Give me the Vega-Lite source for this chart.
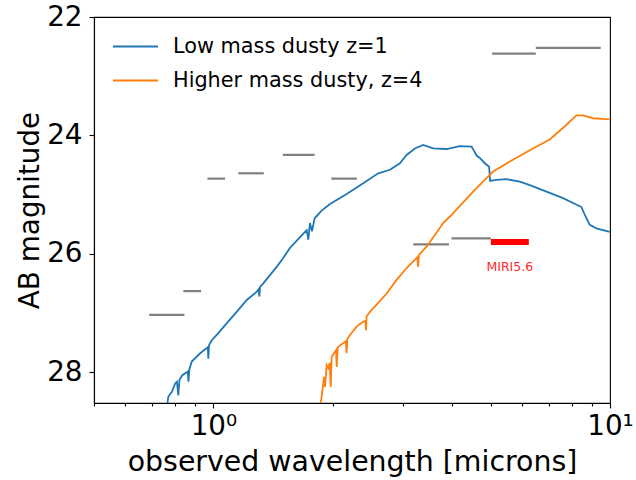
{
  "$schema": "https://vega.github.io/schema/vega-lite/v6.json",
  "width": 516,
  "height": 386,
  "autosize": {"type": "none"},
  "padding": {"left": 94, "top": 17, "right": 26, "bottom": 77},
  "background": "white",
  "config": {
    "font": "DejaVu Sans",
    "view": {"stroke": "black", "strokeWidth": 1.1},
    "axis": {
      "domainColor": "black",
      "domainWidth": 1.1,
      "tickColor": "black",
      "tickWidth": 1.1,
      "labelColor": "black",
      "titleColor": "black",
      "labelFont": "DejaVu Sans",
      "titleFont": "DejaVu Sans",
      "labelFontSize": 27.8,
      "titleFontSize": 28.4,
      "titleFontWeight": "normal",
      "grid": false
    },
    "legend": {
      "labelFont": "DejaVu Sans",
      "labelFontSize": 20.8,
      "labelColor": "black",
      "labelLimit": 400
    }
  },
  "datasets": {
    "spectra": [
      {"series": "Low mass dusty z=1", "wl": 0.766, "mag": 28.52},
      {"series": "Low mass dusty z=1", "wl": 0.770, "mag": 28.41},
      {"series": "Low mass dusty z=1", "wl": 0.786, "mag": 28.33},
      {"series": "Low mass dusty z=1", "wl": 0.801, "mag": 28.19},
      {"series": "Low mass dusty z=1", "wl": 0.809, "mag": 28.16},
      {"series": "Low mass dusty z=1", "wl": 0.816, "mag": 28.39},
      {"series": "Low mass dusty z=1", "wl": 0.821, "mag": 28.13},
      {"series": "Low mass dusty z=1", "wl": 0.835, "mag": 28.05},
      {"series": "Low mass dusty z=1", "wl": 0.862, "mag": 27.99},
      {"series": "Low mass dusty z=1", "wl": 0.865, "mag": 28.16},
      {"series": "Low mass dusty z=1", "wl": 0.870, "mag": 27.95},
      {"series": "Low mass dusty z=1", "wl": 0.882, "mag": 27.82},
      {"series": "Low mass dusty z=1", "wl": 0.926, "mag": 27.68},
      {"series": "Low mass dusty z=1", "wl": 0.968, "mag": 27.58},
      {"series": "Low mass dusty z=1", "wl": 0.971, "mag": 27.77},
      {"series": "Low mass dusty z=1", "wl": 0.975, "mag": 27.54},
      {"series": "Low mass dusty z=1", "wl": 0.991, "mag": 27.46},
      {"series": "Low mass dusty z=1", "wl": 1.029, "mag": 27.34},
      {"series": "Low mass dusty z=1", "wl": 1.081, "mag": 27.17},
      {"series": "Low mass dusty z=1", "wl": 1.145, "mag": 26.98},
      {"series": "Low mass dusty z=1", "wl": 1.214, "mag": 26.78},
      {"series": "Low mass dusty z=1", "wl": 1.286, "mag": 26.64},
      {"series": "Low mass dusty z=1", "wl": 1.301, "mag": 26.60},
      {"series": "Low mass dusty z=1", "wl": 1.306, "mag": 26.72},
      {"series": "Low mass dusty z=1", "wl": 1.311, "mag": 26.56},
      {"series": "Low mass dusty z=1", "wl": 1.336, "mag": 26.50},
      {"series": "Low mass dusty z=1", "wl": 1.389, "mag": 26.36},
      {"series": "Low mass dusty z=1", "wl": 1.444, "mag": 26.22},
      {"series": "Low mass dusty z=1", "wl": 1.500, "mag": 26.07},
      {"series": "Low mass dusty z=1", "wl": 1.560, "mag": 25.90},
      {"series": "Low mass dusty z=1", "wl": 1.654, "mag": 25.72},
      {"series": "Low mass dusty z=1", "wl": 1.719, "mag": 25.60},
      {"series": "Low mass dusty z=1", "wl": 1.735, "mag": 25.76},
      {"series": "Low mass dusty z=1", "wl": 1.752, "mag": 25.48},
      {"series": "Low mass dusty z=1", "wl": 1.772, "mag": 25.62},
      {"series": "Low mass dusty z=1", "wl": 1.800, "mag": 25.40},
      {"series": "Low mass dusty z=1", "wl": 1.875, "mag": 25.27},
      {"series": "Low mass dusty z=1", "wl": 1.968, "mag": 25.16},
      {"series": "Low mass dusty z=1", "wl": 2.168, "mag": 24.99},
      {"series": "Low mass dusty z=1", "wl": 2.387, "mag": 24.81},
      {"series": "Low mass dusty z=1", "wl": 2.604, "mag": 24.64},
      {"series": "Low mass dusty z=1", "wl": 2.787, "mag": 24.58},
      {"series": "Low mass dusty z=1", "wl": 2.953, "mag": 24.47},
      {"series": "Low mass dusty z=1", "wl": 3.070, "mag": 24.33},
      {"series": "Low mass dusty z=1", "wl": 3.222, "mag": 24.22},
      {"series": "Low mass dusty z=1", "wl": 3.381, "mag": 24.16},
      {"series": "Low mass dusty z=1", "wl": 3.583, "mag": 24.22},
      {"series": "Low mass dusty z=1", "wl": 3.871, "mag": 24.23},
      {"series": "Low mass dusty z=1", "wl": 4.182, "mag": 24.18},
      {"series": "Low mass dusty z=1", "wl": 4.476, "mag": 24.19},
      {"series": "Low mass dusty z=1", "wl": 4.550, "mag": 24.27},
      {"series": "Low mass dusty z=1", "wl": 4.608, "mag": 24.34},
      {"series": "Low mass dusty z=1", "wl": 4.697, "mag": 24.38},
      {"series": "Low mass dusty z=1", "wl": 4.835, "mag": 24.47},
      {"series": "Low mass dusty z=1", "wl": 4.957, "mag": 24.53},
      {"series": "Low mass dusty z=1", "wl": 4.986, "mag": 24.77},
      {"series": "Low mass dusty z=1", "wl": 5.174, "mag": 24.75},
      {"series": "Low mass dusty z=1", "wl": 5.483, "mag": 24.74},
      {"series": "Low mass dusty z=1", "wl": 5.923, "mag": 24.78},
      {"series": "Low mass dusty z=1", "wl": 6.277, "mag": 24.84},
      {"series": "Low mass dusty z=1", "wl": 6.917, "mag": 24.95},
      {"series": "Low mass dusty z=1", "wl": 7.614, "mag": 25.06},
      {"series": "Low mass dusty z=1", "wl": 8.472, "mag": 25.21},
      {"series": "Low mass dusty z=1", "wl": 8.636, "mag": 25.34},
      {"series": "Low mass dusty z=1", "wl": 8.890, "mag": 25.51},
      {"series": "Low mass dusty z=1", "wl": 9.242, "mag": 25.57},
      {"series": "Low mass dusty z=1", "wl": 9.980, "mag": 25.63},
      {"series": "Higher mass dusty, z=4", "wl": 1.865, "mag": 28.52},
      {"series": "Higher mass dusty, z=4", "wl": 1.875, "mag": 28.41},
      {"series": "Higher mass dusty, z=4", "wl": 1.901, "mag": 28.08},
      {"series": "Higher mass dusty, z=4", "wl": 1.912, "mag": 28.25},
      {"series": "Higher mass dusty, z=4", "wl": 1.930, "mag": 27.88},
      {"series": "Higher mass dusty, z=4", "wl": 1.949, "mag": 27.93},
      {"series": "Higher mass dusty, z=4", "wl": 1.965, "mag": 27.84},
      {"series": "Higher mass dusty, z=4", "wl": 1.976, "mag": 28.25},
      {"series": "Higher mass dusty, z=4", "wl": 1.987, "mag": 27.74},
      {"series": "Higher mass dusty, z=4", "wl": 2.014, "mag": 27.68},
      {"series": "Higher mass dusty, z=4", "wl": 2.038, "mag": 27.63},
      {"series": "Higher mass dusty, z=4", "wl": 2.046, "mag": 27.91},
      {"series": "Higher mass dusty, z=4", "wl": 2.058, "mag": 27.58},
      {"series": "Higher mass dusty, z=4", "wl": 2.100, "mag": 27.53},
      {"series": "Higher mass dusty, z=4", "wl": 2.156, "mag": 27.48},
      {"series": "Higher mass dusty, z=4", "wl": 2.168, "mag": 27.68},
      {"series": "Higher mass dusty, z=4", "wl": 2.175, "mag": 27.44},
      {"series": "Higher mass dusty, z=4", "wl": 2.210, "mag": 27.37},
      {"series": "Higher mass dusty, z=4", "wl": 2.297, "mag": 27.23},
      {"series": "Higher mass dusty, z=4", "wl": 2.360, "mag": 27.17},
      {"series": "Higher mass dusty, z=4", "wl": 2.415, "mag": 27.13},
      {"series": "Higher mass dusty, z=4", "wl": 2.425, "mag": 27.29},
      {"series": "Higher mass dusty, z=4", "wl": 2.434, "mag": 27.06},
      {"series": "Higher mass dusty, z=4", "wl": 2.481, "mag": 26.98},
      {"series": "Higher mass dusty, z=4", "wl": 2.579, "mag": 26.86},
      {"series": "Higher mass dusty, z=4", "wl": 2.734, "mag": 26.67},
      {"series": "Higher mass dusty, z=4", "wl": 2.897, "mag": 26.44},
      {"series": "Higher mass dusty, z=4", "wl": 3.070, "mag": 26.24},
      {"series": "Higher mass dusty, z=4", "wl": 3.265, "mag": 26.06},
      {"series": "Higher mass dusty, z=4", "wl": 3.284, "mag": 26.22},
      {"series": "Higher mass dusty, z=4", "wl": 3.297, "mag": 26.02},
      {"series": "Higher mass dusty, z=4", "wl": 3.448, "mag": 25.88},
      {"series": "Higher mass dusty, z=4", "wl": 3.796, "mag": 25.48},
      {"series": "Higher mass dusty, z=4", "wl": 3.947, "mag": 25.37},
      {"series": "Higher mass dusty, z=4", "wl": 4.264, "mag": 25.13},
      {"series": "Higher mass dusty, z=4", "wl": 4.518, "mag": 24.95},
      {"series": "Higher mass dusty, z=4", "wl": 4.786, "mag": 24.78},
      {"series": "Higher mass dusty, z=4", "wl": 5.073, "mag": 24.61},
      {"series": "Higher mass dusty, z=4", "wl": 5.590, "mag": 24.44},
      {"series": "Higher mass dusty, z=4", "wl": 6.277, "mag": 24.25},
      {"series": "Higher mass dusty, z=4", "wl": 7.047, "mag": 24.07},
      {"series": "Higher mass dusty, z=4", "wl": 7.767, "mag": 23.82},
      {"series": "Higher mass dusty, z=4", "wl": 8.229, "mag": 23.66},
      {"series": "Higher mass dusty, z=4", "wl": 8.551, "mag": 23.66},
      {"series": "Higher mass dusty, z=4", "wl": 9.063, "mag": 23.71},
      {"series": "Higher mass dusty, z=4", "wl": 9.980, "mag": 23.73}
    ],
    "filters": [
      {"lo": 0.689, "hi": 0.845, "mag": 27.03},
      {"lo": 0.840, "hi": 0.931, "mag": 26.63},
      {"lo": 0.966, "hi": 1.070, "mag": 24.73},
      {"lo": 1.156, "hi": 1.340, "mag": 24.64},
      {"lo": 1.496, "hi": 1.800, "mag": 24.33},
      {"lo": 1.983, "hi": 2.301, "mag": 24.73},
      {"lo": 3.190, "hi": 3.925, "mag": 25.84},
      {"lo": 3.985, "hi": 5.008, "mag": 25.74},
      {"lo": 5.045, "hi": 6.500, "mag": 22.62},
      {"lo": 6.500, "hi": 9.476, "mag": 22.52}
    ],
    "miri": [
      {"lo": 5.008, "hi": 6.241, "mag": 25.80, "wl": 5.59, "labelmag": 26.22, "name": "MIRI5.6"}
    ]
  },
  "layer": [
    {
      "data": {"name": "filters"},
      "mark": {"type": "rule", "color": "#808080", "strokeWidth": 2.2, "clip": true},
      "encoding": {
        "x": {"field": "lo", "type": "quantitative"},
        "x2": {"field": "hi"},
        "y": {"field": "mag", "type": "quantitative"}
      }
    },
    {
      "data": {"name": "miri"},
      "mark": {"type": "rule", "color": "#ff0000", "strokeWidth": 6, "clip": true},
      "encoding": {
        "x": {"field": "lo", "type": "quantitative"},
        "x2": {"field": "hi"},
        "y": {"field": "mag", "type": "quantitative"}
      }
    },
    {
      "data": {"name": "miri"},
      "mark": {"type": "text", "color": "#ff0000", "opacity": 0.85, "fontSize": 12.5, "font": "DejaVu Sans", "align": "center", "baseline": "middle"},
      "encoding": {
        "x": {"field": "wl", "type": "quantitative"},
        "y": {"field": "labelmag", "type": "quantitative"},
        "text": {"field": "name"}
      }
    },
    {
      "data": {"name": "spectra"},
      "mark": {"type": "line", "strokeWidth": 1.8, "clip": true},
      "encoding": {
        "x": {
          "field": "wl", "type": "quantitative",
          "scale": {"type": "log", "domain": [0.5, 10], "nice": false, "zero": false},
          "axis": {
            "title": "observed wavelength [microns]",
            "values": [0.5, 0.6, 0.7, 0.8, 0.9, 1, 2, 3, 4, 5, 6, 7, 8, 9, 10],
            "labelExpr": "datum.value == 1 ? '10⁰' : (datum.value == 10 ? '10¹' : '')",
            "tickSize": {"condition": {"test": "datum.value == 1 || datum.value == 10", "value": 5}, "value": 3},
            "labelPadding": 4,
            "titlePadding": 9,
            "labelFlush": false,
            "labelOverlap": false
          }
        },
        "y": {
          "field": "mag", "type": "quantitative",
          "scale": {"domain": [22, 28.52], "reverse": true, "nice": false, "zero": false},
          "axis": {
            "title": "AB magnitude",
            "titleFontSize": 27.8,
            "values": [22, 24, 26, 28],
            "format": "d",
            "tickSize": 5,
            "labelPadding": 7,
            "titlePadding": 2,
            "labelFlush": false
          }
        },
        "color": {
          "field": "series", "type": "nominal",
          "scale": {"domain": ["Low mass dusty z=1", "Higher mass dusty, z=4"], "range": ["#1f77b4", "#ff7f0e"]},
          "legend": {
            "title": null,
            "orient": "none",
            "legendX": 18,
            "legendY": 6,
            "symbolType": "stroke",
            "symbolSize": 2025,
            "symbolStrokeWidth": 2,
            "labelOffset": 14,
            "rowPadding": -3,
            "padding": 0
          }
        }
      }
    }
  ]
}
